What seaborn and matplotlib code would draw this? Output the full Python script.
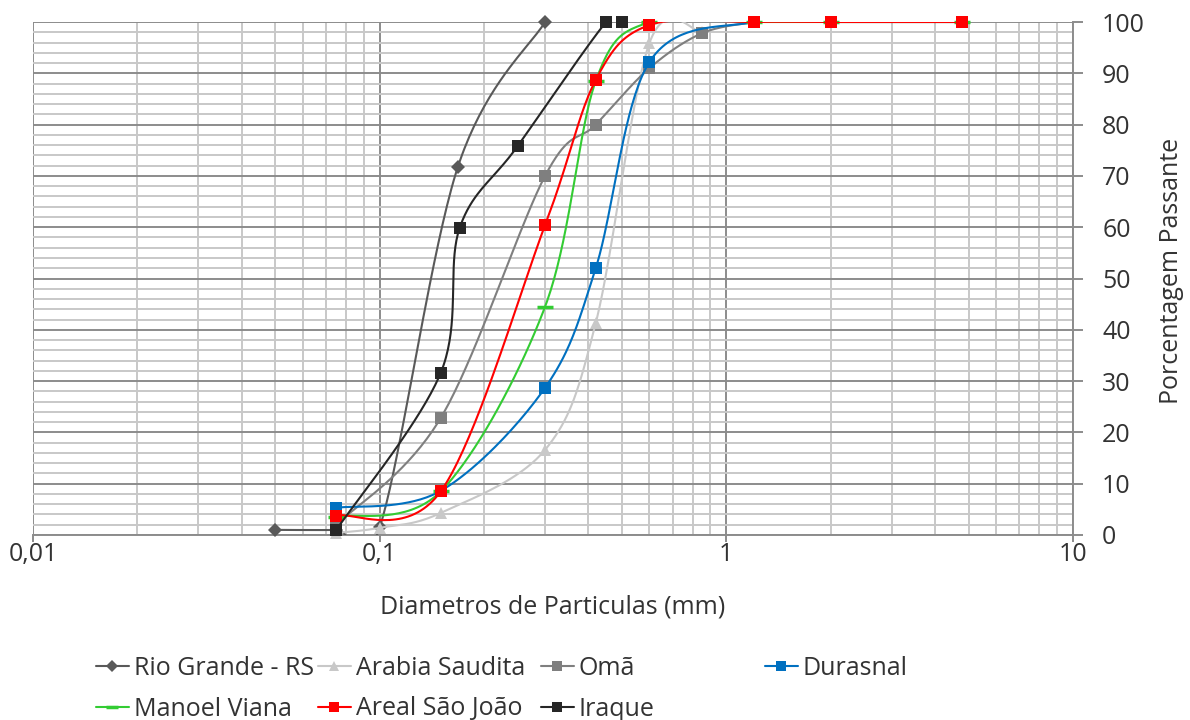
import numpy as np
import pandas as pd
import matplotlib
matplotlib.use("Agg")
import matplotlib.pyplot as plt
import seaborn as sns
from matplotlib.lines import Line2D
from matplotlib.ticker import FixedLocator, NullFormatter, LogLocator, MultipleLocator

# ---------------- data ----------------
series_names = ["Rio Grande - RS", "Arabia Saudita", "Omã", "Durasnal",
                "Manoel Viana", "Areal São João", "Iraque"]

rio_x = [0.05, 0.075, 0.1, 0.168, 0.3]
rio_y = [1.0, 1.0, 1.5, 71.7, 100.0]

arabia_x = [0.075, 0.1, 0.15, 0.3, 0.42, 0.6, 0.85]
arabia_y = [0.4, 1.4, 4.3, 16.6, 41.3, 95.9, 98.0]

oma_x = [0.075, 0.15, 0.3, 0.42, 0.6, 0.85, 1.2]
oma_y = [2.0, 22.8, 70.0, 80.0, 91.0, 97.8, 100.0]

durasnal_x = [0.075, 0.15, 0.3, 0.42, 0.6, 1.2, 2.0, 4.8]
durasnal_y = [5.3, 8.6, 28.7, 52.0, 92.2, 100.0, 100.0, 100.0]

manoel_x = [0.075, 0.15, 0.3, 0.42, 0.6, 1.2, 2.0, 4.8]
manoel_y = [3.6, 8.5, 44.5, 88.5, 100.0, 100.0, 100.0, 100.0]

areal_x = [0.075, 0.15, 0.3, 0.42, 0.6, 1.2, 2.0, 4.8]
areal_y = [3.8, 8.5, 60.4, 88.7, 99.4, 100.0, 100.0, 100.0]

iraque_x = [0.075, 0.15, 0.17, 0.25, 0.45, 0.5]
iraque_y = [1.0, 31.6, 59.8, 75.8, 100.0, 100.0]

x_tick_values = [0.01, 0.1, 1, 10]
x_tick_labels = ["0,01", "0,1", "1", "10"]
y_tick_values = list(range(0, 101, 10))

x_label = "Diametros de Particulas (mm)"
y_label = "Porcentagem Passante"

# ---------------- style ----------------
colors = ["#595959", "#C8C8C8", "#7F7F7F", "#0070C0", "#33CC33", "#FF0000", "#262626"]
markers = ["D", "^", "s", "s", "_", "s", "s"]
msizes = [7, 8, 8.5, 8.5, 11, 9, 8.5]

sns.set_theme(style="white")
FONT = ["Open Sans", "DejaVu Sans"]
plt.rcParams["font.family"] = FONT
FS = 18
TXT = "#333333"

W, H = 1190, 720
fig = plt.figure(figsize=(W / 100, H / 100), dpi=100)
L, R, T, B = 33, 1073, 22, 535
ax = fig.add_axes([L / W, 1 - B / H, (R - L) / W, (B - T) / H])

ax.set_xscale("log")
ax.set_xlim(0.01, 10)
ax.set_ylim(0, 100)

# smoothing (Excel-like bezier through the points, in screen space)
def smooth(xs, ys, n=40):
    u = (np.log10(np.asarray(xs, float)) + 2) * 346.7
    v = np.asarray(ys, float) * 5.13
    P = np.column_stack([u, v])
    P = np.vstack([P[0], P, P[-1]])
    out = []
    t = np.linspace(0, 1, n)[:, None]
    for i in range(1, len(P) - 2):
        p0, p1, p2, p3 = P[i - 1], P[i], P[i + 1], P[i + 2]
        c1 = p1 + (p2 - p0) / 6
        c2 = p2 - (p3 - p1) / 6
        b = (1 - t) ** 3 * p1 + 3 * (1 - t) ** 2 * t * c1 + 3 * (1 - t) * t ** 2 * c2 + t ** 3 * p2
        out.append(b if i == 1 else b[1:])
    out = np.vstack(out)
    return 10 ** (out[:, 0] / 346.7 - 2), out[:, 1] / 5.13

all_x = [rio_x, arabia_x, oma_x, durasnal_x, manoel_x, areal_x, iraque_x]
all_y = [rio_y, arabia_y, oma_y, durasnal_y, manoel_y, areal_y, iraque_y]

for i, (name, xs, ys) in enumerate(zip(series_names, all_x, all_y)):
    sx, sy = smooth(xs, ys)
    df = pd.DataFrame({"x": sx, "y": sy})
    sns.lineplot(data=df, x="x", y="y", sort=False, estimator=None, color=colors[i],
                 lw=1.5, ax=ax, zorder=3 + 2 * i, legend=False)
    mew = 2.5 if markers[i] == "_" else 0
    ax.plot(xs, ys, ls="none", marker=markers[i], ms=msizes[i], color=colors[i],
            mew=mew, mec=colors[i], zorder=4 + 2 * i, clip_on=False)

# grid
ax.xaxis.set_major_locator(FixedLocator(x_tick_values))
ax.set_xticklabels(x_tick_labels)
ax.xaxis.set_minor_locator(LogLocator(base=10, subs=np.arange(2, 10)))
ax.xaxis.set_minor_formatter(NullFormatter())
ax.yaxis.set_major_locator(FixedLocator(y_tick_values))
ax.yaxis.set_minor_locator(MultipleLocator(2))
ax.grid(which="major", color="#8C8C8C", lw=1.4, zorder=1)
ax.grid(which="minor", color="#C8C8C8", lw=1.4, zorder=0)
ax.set_axisbelow(True)

for s in ["left", "top"]:
    ax.spines[s].set_visible(False)
ax.spines["bottom"].set_color("#8C8C8C")
ax.spines["right"].set_color("#8C8C8C")
ax.spines["bottom"].set_linewidth(1.4)
ax.spines["right"].set_linewidth(1.4)

ax.yaxis.tick_right()
ax.yaxis.set_label_position("right")
ax.tick_params(axis="x", which="major", direction="out", length=5, width=1.4,
               color="#8C8C8C", labelsize=FS, labelcolor=TXT, pad=0, bottom=True)
ax.tick_params(axis="x", which="minor", length=0)
ax.tick_params(axis="y", which="major", direction="out", length=7, width=1.4,
               color="#8C8C8C", labelsize=FS, labelcolor=TXT, pad=14, right=True, left=False)
ax.tick_params(axis="y", which="minor", length=0)
for lab in ax.get_yticklabels():
    lab.set_horizontalalignment("left")

ax.set_xlabel(x_label, fontsize=FS, color=TXT, labelpad=20)
ax.set_ylabel(y_label, fontsize=FS, color=TXT, labelpad=8)
ax.yaxis.set_label_coords(1.083, 0.515)

# legend: 4 uniform columns, 2 rows (Excel style)
handles = [Line2D([0], [0], color=colors[i], lw=1.5, marker=markers[i],
                  ms=msizes[i] * 0.85, mew=(2.5 if markers[i] == "_" else 0), mec=colors[i])
           for i in range(len(series_names))]
col_items = [[0, 4], [1, 5], [2, 6], [3]]
col_x = [96, 318, 541, 765]
for cx, items in zip(col_x, col_items):
    fig.legend([handles[k] for k in items], [series_names[k] for k in items],
               loc="upper left", bbox_to_anchor=(cx / W, 1 - 656 / H),
               frameon=False, fontsize=FS, labelcolor=TXT,
               handlelength=1.3, handletextpad=0.2, borderpad=0, borderaxespad=0,
               labelspacing=0.62)

fig.savefig("out.png", dpi=100)
